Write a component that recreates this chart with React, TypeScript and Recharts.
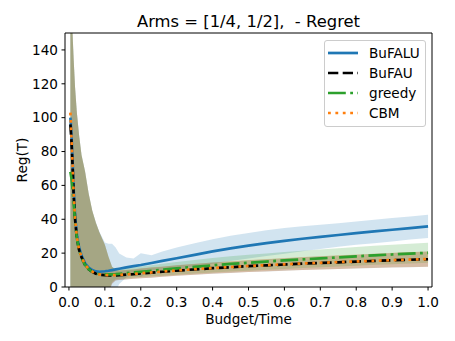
import React from "react"
import {
  Area,
  ComposedChart,
  Label,
  Legend,
  Line,
  ReferenceLine,
  XAxis,
  YAxis,
} from "recharts"

// budget/time fractions
const X = [
  0.004, 0.007, 0.01, 0.013, 0.017, 0.022, 0.028, 0.035, 0.045, 0.055, 0.065, 0.075, 0.085, 0.1, 0.11, 0.12,
  0.13, 0.14, 0.16, 0.18, 0.2, 0.23, 0.26, 0.3, 0.35, 0.4, 0.45, 0.5, 0.55, 0.6, 0.65, 0.7, 0.75, 0.8, 0.85,
  0.9, 0.95, 1.0,
]

// mean regret per algorithm
const BUFALU = [
  100, 90, 75, 58, 42, 31, 23.5, 18.5, 14, 11.5, 10, 9.2, 9.0, 9.3, 9.6, 10.0, 10.4, 10.8, 11.6, 12.3, 13.0, 14.2,
  15.4, 17.0, 19.0, 21.0, 22.8, 24.4, 25.9, 27.2, 28.5, 29.6, 30.7, 31.8, 32.8, 33.8, 34.8, 35.8,
]
const BUFAU = [
  96, 86, 72, 55, 40, 29, 22, 17.5, 13, 10.5, 9, 7.8, 7.3, 7.0, 6.9, 6.9, 6.9, 7.0, 7.3, 7.6, 8.0, 8.5, 9.0, 9.7,
  10.4, 11.1, 11.7, 12.3, 12.8, 13.3, 13.8, 14.2, 14.6, 15.0, 15.4, 15.8, 16.1, 16.4,
]
const GREEDY = [
  68, 64, 58, 50, 39, 29, 22, 17, 13, 10.5, 9, 8, 7.6, 7.4, 7.4, 7.5, 7.6, 7.8, 8.2, 8.6, 9.0, 9.6, 10.2, 11.0,
  11.9, 12.8, 13.6, 14.3, 15.0, 15.7, 16.3, 16.9, 17.5, 18.1, 18.7, 19.2, 19.7, 20.2,
]
const CBM = [
  103, 88, 73, 56, 40.5, 29.5, 22.3, 17.7, 13.2, 10.6, 9.1, 7.9, 7.4, 7.1, 7.0, 7.0, 7.0, 7.1, 7.4, 7.7, 8.1, 8.6,
  9.1, 9.8, 10.5, 11.2, 11.8, 12.4, 12.9, 13.4, 13.9, 14.3, 14.7, 15.1, 15.5, 15.9, 16.2, 16.5,
]

// std spread around each mean
const BUFALU_SD = [
  150, 100, 75, 77, 76, 72, 66.5, 59.5, 54, 43.5, 35, 29, 23.5, 17, 16, 15.5, 13, 9, 5.8, 4.5, 7, 4.5, 5.5, 6.3,
  6.8, 7.2, 7.4, 7.5, 7.6, 7.6, 7.4, 7.2, 7.0, 6.9, 6.9, 6.9, 6.8, 6.8,
]
const BUFAU_SD = [
  154, 104, 78, 80, 78, 74, 68, 60.5, 55, 44.5, 36, 30, 25, 18, 11, 5, 3, 2.8, 2.8, 2.8, 2.9, 3, 3, 3.1, 3.2, 3.3,
  3.4, 3.5, 3.6, 3.7, 3.8, 3.9, 4.0, 4.1, 4.2, 4.3, 4.4, 4.5,
]
const GREEDY_SD = [
  182, 126, 92, 85, 79, 74, 68, 61, 55, 44.5, 36, 30, 24.4, 17.6, 10.6, 4.5, 3, 3, 3, 3, 3.1, 3.3, 3.5, 3.8, 4.0,
  4.3, 4.5, 4.7, 4.8, 5.0, 5.1, 5.2, 5.4, 5.5, 5.6, 5.7, 5.8, 5.9,
]
const CBM_SD = [
  147, 102, 77, 79, 77.5, 73.5, 67.7, 60.3, 54.8, 44.4, 35.9, 30.1, 24.6, 17.9, 11, 5, 3, 2.8, 2.8, 2.8, 2.9, 3, 3,
  3.1, 3.2, 3.3, 3.4, 3.5, 3.6, 3.7, 3.8, 3.9, 4.0, 4.1, 4.2, 4.3, 4.4, 4.5,
]

const X_DOMAIN = [-0.011, 1.011]
const Y_DOMAIN = [0, 150]
const X_TICKS = [0, 0.1, 0.2, 0.3, 0.4, 0.5, 0.6, 0.7, 0.8, 0.9, 1.0]
const Y_TICKS = [0, 20, 40, 60, 80, 100, 120, 140]

const FONT = "DejaVu Sans"

const series = [
  { key: "bufalu", name: "BuFALU", color: "#1f77b4", dash: undefined, mean: BUFALU, sd: BUFALU_SD },
  { key: "bufau", name: "BuFAU", color: "#000000", dash: "10.3 4.4", mean: BUFAU, sd: BUFAU_SD },
  { key: "greedy", name: "greedy", color: "#2ca02c", dash: "17.8 4.4 2.8 4.4", mean: GREEDY, sd: GREEDY_SD },
  { key: "cbm", name: "CBM", color: "#ff7f0e", dash: "2.8 4.6", mean: CBM, sd: CBM_SD },
]

const data = X.map((x, i) => {
  const row: Record<string, any> = { x }
  series.forEach((s) => {
    row[s.key] = s.mean[i]
    row[s.key + "Band"] = [s.mean[i] - s.sd[i], s.mean[i] + s.sd[i]]
  })
  return row
})

function LegendBox() {
  return (
    <div
      style={{
        width: 102,
        height: 87,
        boxSizing: "border-box",
        border: "1px solid #cccccc",
        borderRadius: 3,
        background: "rgba(255,255,255,0.8)",
        fontFamily: FONT,
        fontSize: 13.6,
        color: "#000",
        position: "relative",
      }}
    >
      {series.map((s, i) => (
        <div
          key={s.key}
          style={{ position: "absolute", left: 0, top: 1.7 + i * 20, height: 20, display: "flex", alignItems: "center" }}
        >
          <svg width={34} height={20}>
            <line x1={3} x2={33} y1={10} y2={10} stroke={s.color} strokeWidth={2.7} strokeDasharray={s.dash} />
          </svg>
          <span style={{ marginLeft: 10, whiteSpace: "nowrap" }}>{s.name}</span>
        </div>
      ))}
    </div>
  )
}

export default function App() {
  const tickStyle = { fill: "#000", fontSize: 13.6, fontFamily: FONT }

  return (
    <div style={{ position: "absolute", left: 0, top: 0, background: "#fff" }}>
      <ComposedChart width={455} height={341} data={data} margin={{ top: 33, right: 23, left: 0, bottom: 0 }}>
        <XAxis
          dataKey="x"
          type="number"
          domain={X_DOMAIN}
          ticks={X_TICKS}
          tickFormatter={(v) => v.toFixed(1)}
          allowDataOverflow
          height={54}
          tickSize={3.5}
          tickMargin={6.5}
          tick={tickStyle}
          axisLine={{ stroke: "#000", strokeWidth: 1 }}
          tickLine={{ stroke: "#000", strokeWidth: 1 }}
        >
          <Label
            content={({ viewBox }: any) => (
              <text
                x={viewBox.x + viewBox.width / 2}
                y={324}
                textAnchor="middle"
                fontFamily={FONT}
                fontSize={13.6}
                fill="#000"
              >
                Budget/Time
              </text>
            )}
          />
        </XAxis>
        <YAxis
          type="number"
          domain={Y_DOMAIN}
          ticks={Y_TICKS}
          allowDataOverflow
          width={65}
          tickSize={3.5}
          tickMargin={3.5}
          tick={tickStyle}
          axisLine={{ stroke: "#000", strokeWidth: 1 }}
          tickLine={{ stroke: "#000", strokeWidth: 1 }}
        >
          <Label
            content={({ viewBox }: any) => {
              const cy = viewBox.y + viewBox.height / 2
              return (
                <text
                  x={27}
                  y={cy}
                  transform={`rotate(-90, 27, ${cy})`}
                  textAnchor="middle"
                  fontFamily={FONT}
                  fontSize={13.6}
                  fill="#000"
                >
                  Reg(T)
                </text>
              )
            }}
          />
        </YAxis>

        {series.map((s) => (
          <Area
            key={s.key + "Band"}
            dataKey={s.key + "Band"}
            type="linear"
            stroke="none"
            fill={s.color}
            fillOpacity={0.2}
            isAnimationActive={false}
            activeDot={false}
            legendType="none"
          />
        ))}
        {series.map((s) => (
          <Line
            key={s.key}
            dataKey={s.key}
            name={s.name}
            type="linear"
            stroke={s.color}
            strokeWidth={2.7}
            strokeDasharray={s.dash}
            dot={false}
            activeDot={false}
            isAnimationActive={false}
          />
        ))}

        {/* top and right spines */}
        <ReferenceLine y={Y_DOMAIN[1]} stroke="#000" strokeWidth={1} ifOverflow="extendDomain" />
        <ReferenceLine x={X_DOMAIN[1]} stroke="#000" strokeWidth={1} ifOverflow="extendDomain" />

        <Legend
          layout="horizontal"
          verticalAlign="middle"
          align="center"
          content={() => <LegendBox />}
          wrapperStyle={{ left: 324, top: 40, width: 102, height: 87 }}
        />

        <text x={248.5} y={27} textAnchor="middle" fontFamily={FONT} fontSize={16.4} fill="#000" style={{ whiteSpace: "pre" }}>
          {"Arms = [1/4, 1/2],  - Regret"}
        </text>
      </ComposedChart>
    </div>
  )
}
